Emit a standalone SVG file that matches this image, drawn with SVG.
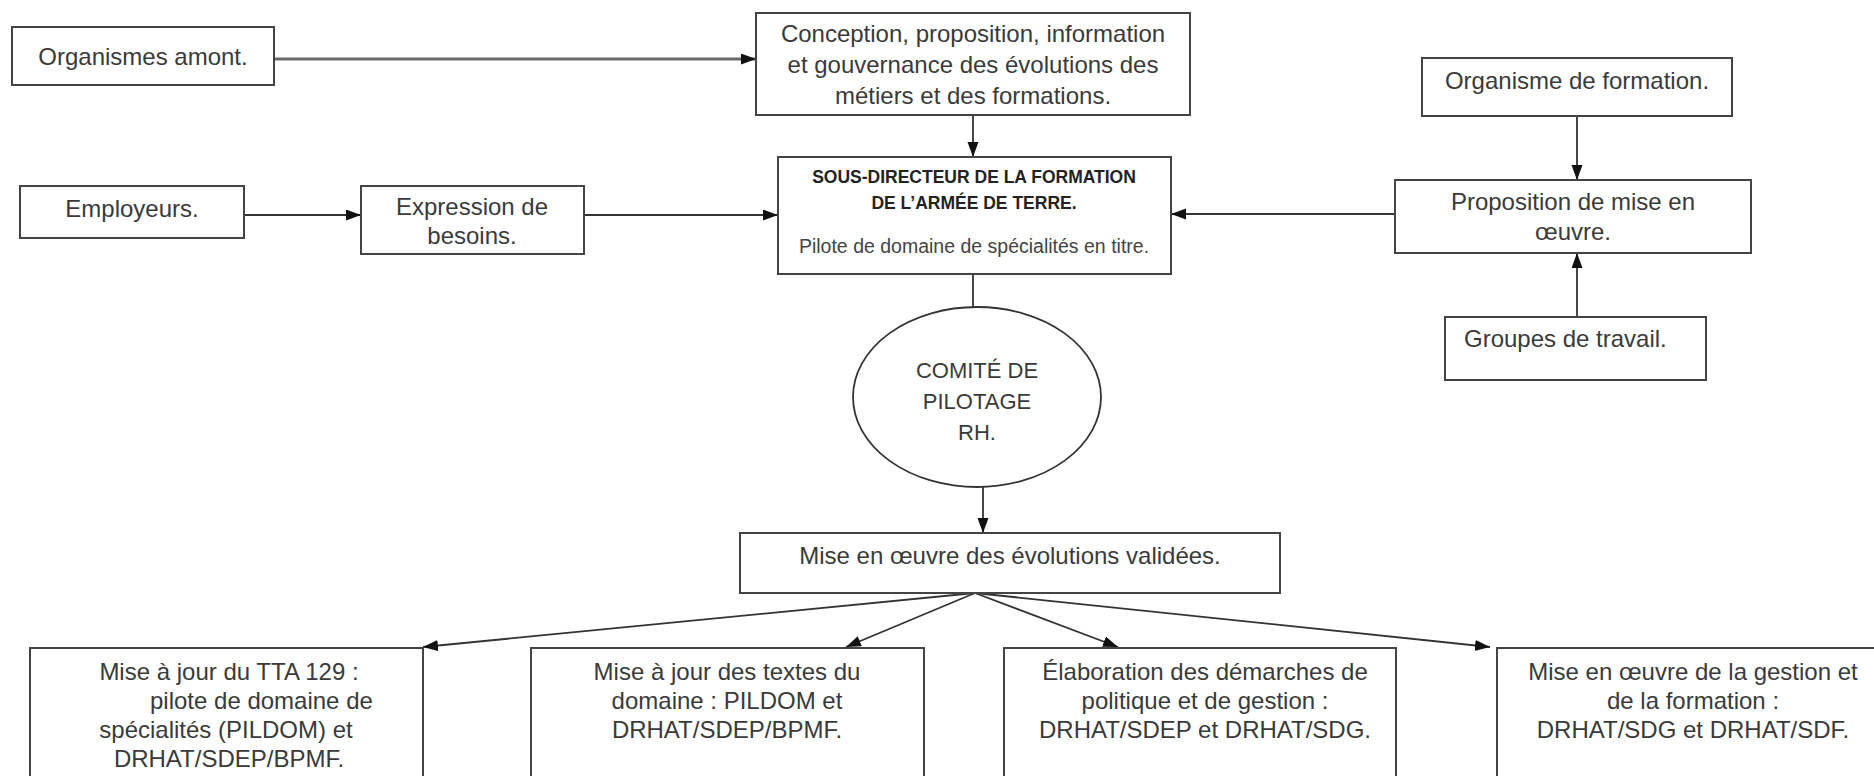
<svg xmlns="http://www.w3.org/2000/svg" width="1874" height="776" viewBox="0 0 1874 776">
<defs>
<style>
.box{fill:#fff;stroke:#444;stroke-width:2}
.t{font-family:"Liberation Sans",Arial,sans-serif;font-size:24px;fill:#3a3a3a;text-anchor:middle}
.b{font-family:"Liberation Sans",Arial,sans-serif;font-size:17.5px;font-weight:bold;fill:#222;text-anchor:middle}
.s{font-family:"Liberation Sans",Arial,sans-serif;font-size:19.5px;fill:#444;text-anchor:middle}
.c{font-family:"Liberation Sans",Arial,sans-serif;font-size:22px;fill:#3a3a3a;text-anchor:middle}
.ln{fill:none;stroke:#333;stroke-width:1.8}
</style>
<marker id="ah" markerUnits="userSpaceOnUse" markerWidth="16" markerHeight="12" refX="15" refY="5.5" orient="auto">
<path d="M0,0 L15,5.5 L0,11 z" fill="#111"/>
</marker>
</defs>
<rect width="1874" height="776" fill="#fff"/>

<g id="connectors">
<line x1="274" y1="59" x2="756" y2="59" stroke="#6a6a6a" stroke-width="3" marker-end="url(#ah)"/>
<line class="ln" x1="973" y1="115" x2="973" y2="157" marker-end="url(#ah)"/>
<line class="ln" x1="244" y1="215" x2="361" y2="215" marker-end="url(#ah)"/>
<line class="ln" x1="584" y1="215" x2="778" y2="215" marker-end="url(#ah)"/>
<line class="ln" x1="1395" y1="214" x2="1171" y2="214" marker-end="url(#ah)"/>
<line class="ln" x1="1577" y1="116" x2="1577" y2="180" marker-end="url(#ah)"/>
<line class="ln" x1="1577" y1="317" x2="1577" y2="253" marker-end="url(#ah)"/>
<line class="ln" x1="973" y1="274" x2="973" y2="307"/>
<line class="ln" x1="983" y1="487" x2="983" y2="533" marker-end="url(#ah)"/>
<line class="ln" x1="975" y1="593" x2="423" y2="647" marker-end="url(#ah)"/>
<line class="ln" x1="975" y1="593" x2="846" y2="647" marker-end="url(#ah)"/>
<line class="ln" x1="975" y1="593" x2="1118" y2="647" marker-end="url(#ah)"/>
<line class="ln" x1="975" y1="593" x2="1490" y2="647" marker-end="url(#ah)"/>
</g>

<g id="organismes-amont">
<rect class="box" x="12" y="27" width="262" height="58"/>
<text class="t" x="143" y="65">Organismes amont.</text>
</g>

<g id="conception">
<rect class="box" x="756" y="13" width="434" height="102"/>
<text class="t" x="973" y="42">Conception, proposition, information</text>
<text class="t" x="973" y="73">et gouvernance des évolutions des</text>
<text class="t" x="973" y="104">métiers et des formations.</text>
</g>

<g id="employeurs">
<rect class="box" x="20" y="186" width="224" height="52"/>
<text class="t" x="132" y="217">Employeurs.</text>
</g>

<g id="expression">
<rect class="box" x="361" y="186" width="223" height="68"/>
<text class="t" x="472" y="215">Expression de</text>
<text class="t" x="472" y="244">besoins.</text>
</g>

<g id="sous-directeur">
<rect class="box" x="778" y="157" width="393" height="117"/>
<text class="b" x="974" y="183">SOUS-DIRECTEUR DE LA FORMATION</text>
<text class="b" x="974" y="209">DE L’ARMÉE DE TERRE.</text>
<text class="s" x="974" y="253">Pilote de domaine de spécialités en titre.</text>
</g>

<g id="organisme-formation">
<rect class="box" x="1422" y="58" width="310" height="58"/>
<text class="t" x="1577" y="89">Organisme de formation.</text>
</g>

<g id="proposition">
<rect class="box" x="1395" y="180" width="356" height="73"/>
<text class="t" x="1573" y="210">Proposition de mise en</text>
<text class="t" x="1573" y="240">œuvre.</text>
</g>

<g id="groupes">
<rect class="box" x="1445" y="317" width="261" height="63"/>
<text class="t" x="1464" y="347" style="text-anchor:start">Groupes de travail.</text>
</g>

<g id="comite">
<ellipse cx="977" cy="397" rx="124" ry="90" fill="#fff" stroke="#333" stroke-width="1.8"/>
<text class="c" x="977" y="378">COMITÉ DE</text>
<text class="c" x="977" y="409">PILOTAGE</text>
<text class="c" x="977" y="440">RH.</text>
</g>

<g id="mise-en-oeuvre">
<rect class="box" x="740" y="533" width="540" height="60"/>
<text class="t" x="1010" y="564">Mise en œuvre des évolutions validées.</text>
</g>

<g id="tta129">
<rect class="box" x="30" y="648" width="393" height="160"/>
<text class="t" x="229" y="680">Mise à jour du TTA 129 :</text>
<text class="t" x="150" y="709" style="text-anchor:start">pilote de domaine de</text>
<text class="t" x="226" y="738">spécialités (PILDOM) et</text>
<text class="t" x="229" y="767">DRHAT/SDEP/BPMF.</text>
</g>

<g id="textes">
<rect class="box" x="531" y="648" width="393" height="160"/>
<text class="t" x="727" y="680">Mise à jour des textes du</text>
<text class="t" x="727" y="709">domaine : PILDOM et</text>
<text class="t" x="727" y="738">DRHAT/SDEP/BPMF.</text>
</g>

<g id="elaboration">
<rect class="box" x="1004" y="648" width="392" height="160"/>
<text class="t" x="1205" y="680">Élaboration des démarches de</text>
<text class="t" x="1205" y="709">politique et de gestion :</text>
<text class="t" x="1205" y="738">DRHAT/SDEP et DRHAT/SDG.</text>
</g>

<g id="gestion-formation">
<rect class="box" x="1497" y="648" width="393" height="160"/>
<text class="t" x="1693" y="680">Mise en œuvre de la gestion et</text>
<text class="t" x="1693" y="709">de la formation :</text>
<text class="t" x="1693" y="738">DRHAT/SDG et DRHAT/SDF.</text>
</g>
</svg>
